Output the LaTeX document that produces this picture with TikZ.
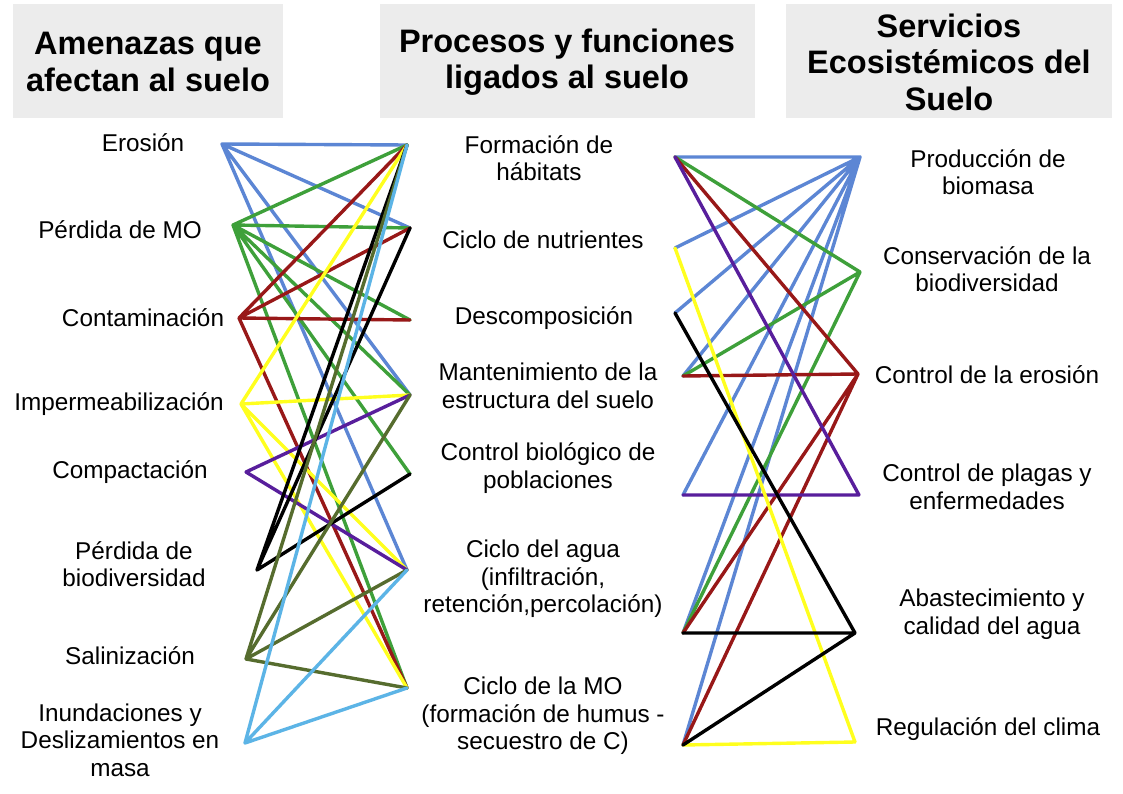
\documentclass[tikz,border=0pt]{standalone}
\usepackage{fontspec}
\setmainfont{Liberation Sans}
\definecolor{cBlue}{RGB}{92,134,212}
\definecolor{cGreen}{RGB}{62,160,58}
\definecolor{cRed}{RGB}{152,24,24}
\definecolor{cYellow}{RGB}{255,255,30}
\definecolor{cPurple}{RGB}{88,30,156}
\definecolor{cOlive}{RGB}{86,108,46}
\definecolor{cLBlue}{RGB}{92,180,230}
\definecolor{hdrgray}{RGB}{236,236,236}
\tikzset{
  lbl/.style={align=center, inner sep=0pt, font=\fontsize{24.3}{27.5}\selectfont},
  hdr/.style={align=center, inner sep=0pt, font=\fontsize{32.5}{36.5}\selectfont\bfseries},
  hbox/.style={fill=hdrgray, draw=none},
  ln/.style={line width=3.4pt, line cap=round, line join=round},
}
\begin{document}
\begin{tikzpicture}[x=1pt,y=-1pt]
\useasboundingbox (0,0) rectangle (1123,794);
\fill[white] (0,0) rectangle (1123,794);
% header boxes
\fill[hbox] (13,4) rectangle (283,118);
\fill[hbox] (380,4) rectangle (755,118);
\fill[hbox] (786,4) rectangle (1112,118);
\node[hdr] (h1) at (148,62) {Amenazas que\\afectan al suelo};
\node[hdr] (h2) at (567,62) {Procesos y funciones\\ligados al suelo};
\node[hdr] (h3) at (949,62) {Servicios\\Ecosistémicos del\\Suelo};
% left column labels
\node[lbl] (t1) at (143,143) {Erosión};
\node[lbl] (t2) at (120,230) {Pérdida de MO};
\node[lbl] (t3) at (143,318) {Contaminación};
\node[lbl] (t4) at (119,404) {Impermeabilización};
\node[lbl] (t5) at (130,472) {Compactación};
\node[lbl] (t6) at (134,564) {Pérdida de\\biodiversidad};
\node[lbl] (t7) at (130,656) {Salinización};
\node[lbl] (t8) at (120,740) {Inundaciones y\\Deslizamientos en\\masa};
% middle column labels
\node[lbl] (m1) at (539,158) {Formación de\\hábitats};
\node[lbl] (m2) at (543,240) {Ciclo de nutrientes};
\node[lbl] (m3) at (544,318) {Descomposición};
\node[lbl] (m4) at (548,386) {Mantenimiento de la\\estructura del suelo};
\node[lbl] (m5) at (548,468) {Control biológico de\\poblaciones};
\node[lbl] (m6) at (543,579) {Ciclo del agua\\(infiltración,\\retención,percolación)};
\node[lbl] (m7) at (543,716) {Ciclo de la MO\\(formación de humus -\\secuestro de C)};
% right column labels
\node[lbl] (s1) at (988,172) {Producción de\\biomasa};
\node[lbl] (s2) at (987,269) {Conservación de la\\biodiversidad};
\node[lbl] (s3) at (987,375) {Control de la erosión};
\node[lbl] (s4) at (987,487) {Control de plagas y\\enfermedades};
\node[lbl] (s5) at (992,614) {Abastecimiento y\\calidad del agua};
\node[lbl] (s6) at (988,729) {Regulación del clima};
% anchor points left panel
\coordinate (A1) at (222,144);
\coordinate (A2) at (233,225);
\coordinate (A3) at (239,318);
\coordinate (A4) at (241,404);
\coordinate (A5) at (246,472);
\coordinate (A6) at (257,570);
\coordinate (A7) at (246,659);
\coordinate (A8) at (245,743);
\coordinate (P1) at (407,145);
\coordinate (P2) at (410,228);
\coordinate (P3) at (410,320);
\coordinate (P4) at (410,395);
\coordinate (P5) at (410,474);
\coordinate (P6) at (407,570);
\coordinate (P7) at (407,688);
% anchor points right panel
\coordinate (Q1) at (675,157);
\coordinate (Q2) at (675,248);
\coordinate (Q3) at (675,313);
\coordinate (Q4) at (683,376);
\coordinate (Q5) at (683,495);
\coordinate (Q6) at (683,633);
\coordinate (Q7) at (683,745);
\coordinate (S1) at (860,157);
\coordinate (S2) at (860,272);
\coordinate (S3) at (858,374);
\coordinate (S4) at (859,495);
\coordinate (S5) at (855,633);
\coordinate (S6) at (855,742);
% left panel connectors
\draw[ln,cBlue] (A1) -- (P1) (A1) -- (P2) (A1) -- (P4) (A1) -- (P6);
\draw[ln,cGreen] (A2) -- (P1) (A2) -- (P2) (A2) -- (P3) (A2) -- (P4) (A2) -- (P5) (A2) -- (P7);
\draw[ln,cRed] (A3) -- (P1) (A3) -- (P2) (A3) -- (P3) (A3) -- (P7);
\draw[ln,cYellow] (A4) -- (P1) (A4) -- (P4) (A4) -- (P6) (A4) -- (P7);
\draw[ln,cPurple] (A5) -- (P4) (A5) -- (P6);
\draw[ln,black] (A6) -- (P1) (A6) -- (P2) (A6) -- (P5);
\draw[ln,cOlive] (A7) -- (P1) (A7) -- (P4) (A7) -- (P6) (A7) -- (P7);
\draw[ln,cLBlue] (A8) -- (P1) (A8) -- (P6) (A8) -- (P7);
% right panel connectors
\draw[ln,cBlue] (Q1) -- (S1) (Q2) -- (S1) (Q3) -- (S1) (Q4) -- (S1) (Q5) -- (S1) (Q6) -- (S1) (Q7) -- (S1);
\draw[ln,cGreen] (Q1) -- (S2) (Q4) -- (S2) (Q6) -- (S2);
\draw[ln,cRed] (Q1) -- (S3) (Q4) -- (S3) (Q6) -- (S3) (Q7) -- (S3);
\draw[ln,cPurple] (Q1) -- (S4) (Q5) -- (S4);
\draw[ln,cYellow] (Q2) -- (S6) (Q7) -- (S6);
\draw[ln,black] (Q3) -- (S5) (Q6) -- (S5) (Q7) -- (S5);
\end{tikzpicture}
\end{document}
